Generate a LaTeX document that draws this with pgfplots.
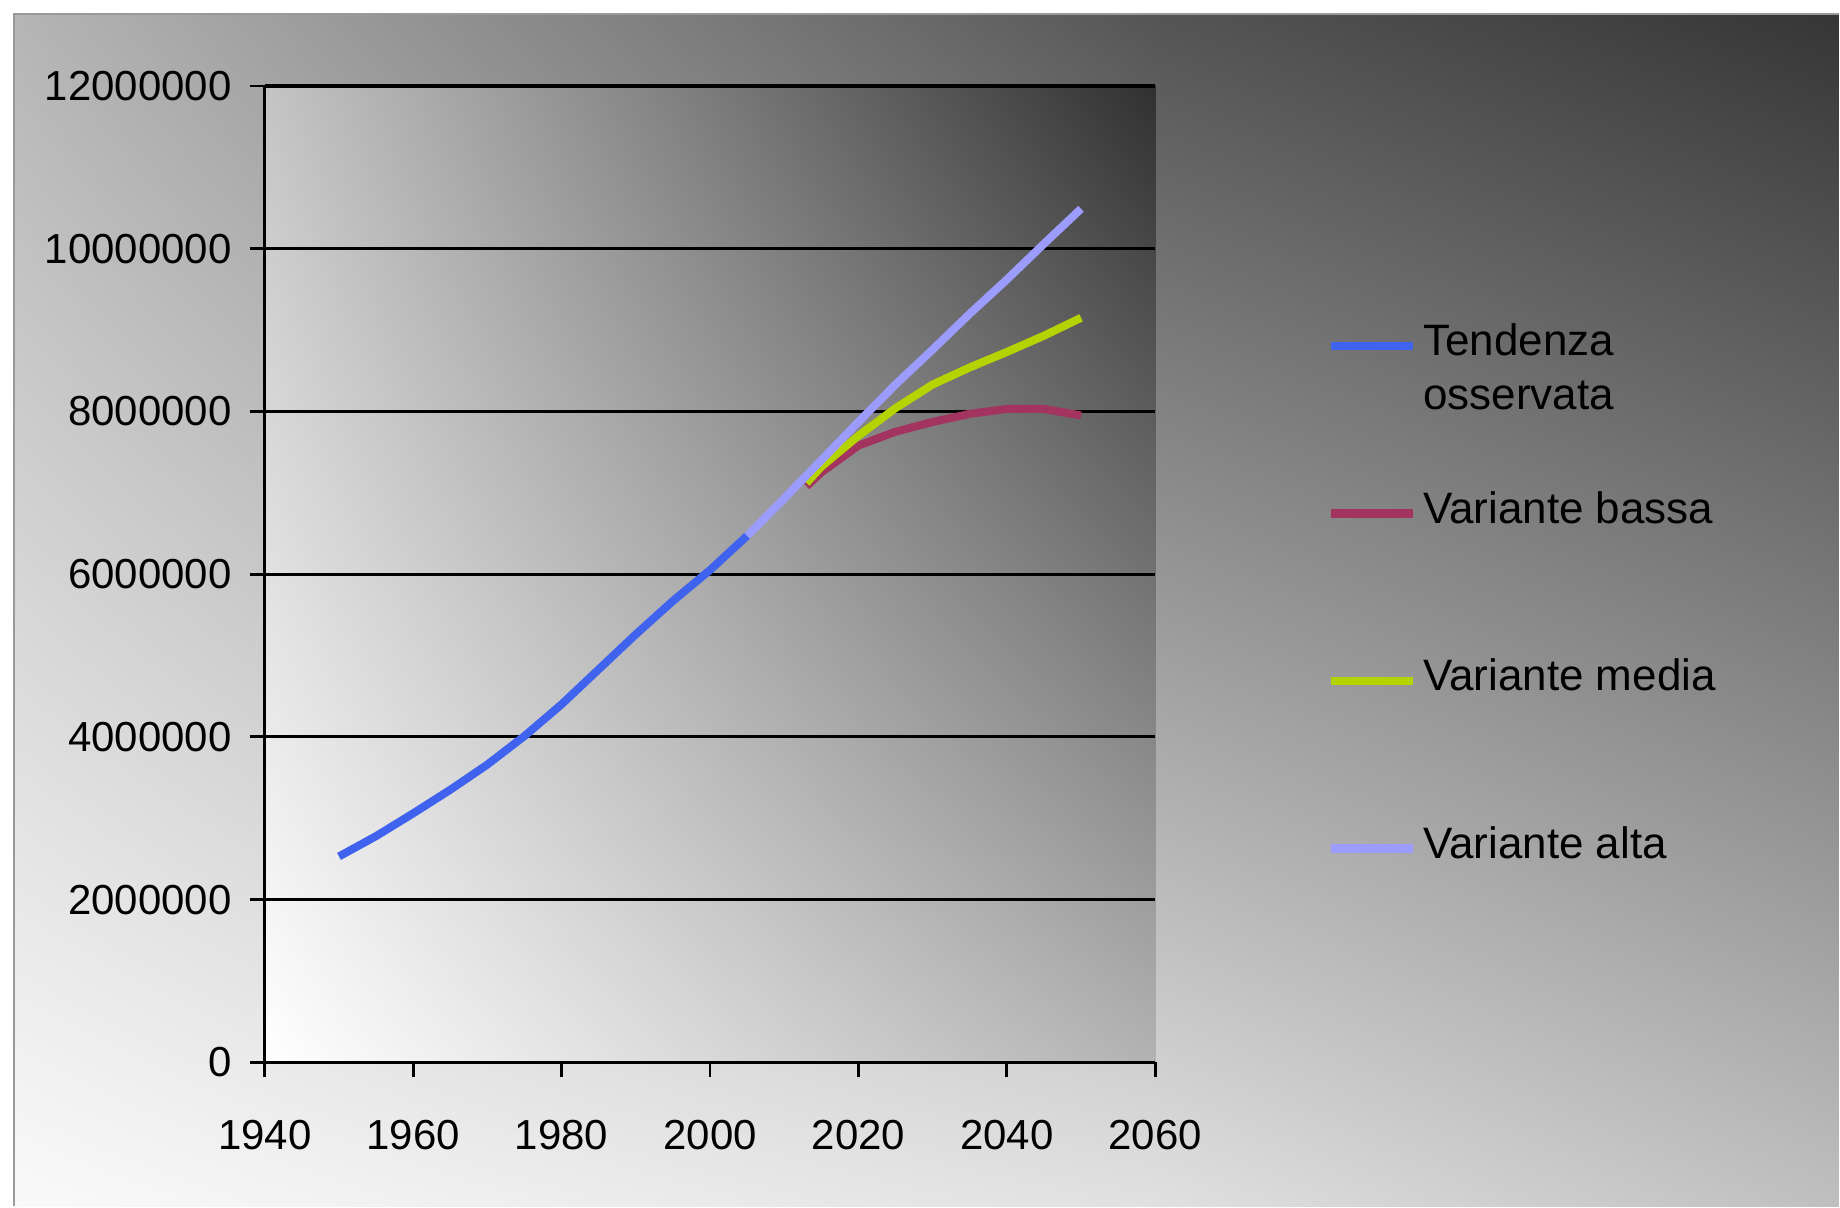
\documentclass[border=0pt]{standalone}
\usepackage{pgfplots}
\pgfplotsset{compat=1.18}
\usetikzlibrary{shadings}
\usepackage{fontspec}
\setmainfont{Liberation Sans}
\definecolor{cBlue}{HTML}{3F63EE}
\definecolor{cLow}{HTML}{A3335F}
\definecolor{cMed}{HTML}{B5D300}
\definecolor{cHigh}{HTML}{9C9CFF}
\definecolor{bgUL}{gray}{0.71}
\definecolor{bgUM}{gray}{0.33}
\definecolor{bgUR}{gray}{0.21}
\definecolor{bgLL}{gray}{0.98}
\definecolor{bgLM}{gray}{0.88}
\definecolor{bgLR}{gray}{0.75}
\definecolor{inUL}{gray}{0.77}
\definecolor{inUR}{gray}{0.19}
\definecolor{inLL}{gray}{1.0}
\definecolor{inLR}{gray}{0.70}
\begin{document}
\begin{tikzpicture}
\fill[white] (0,0) rectangle (460pt,301.75pt);
\shade[upper left=bgUL, upper right=bgUM, lower left=bgLL, lower right=bgLM] (3.5pt,0) rectangle (290pt,298.25pt);
\shade[upper left=bgUM, upper right=bgUR, lower left=bgLM, lower right=bgLR] (289.9pt,0) rectangle (460pt,298.25pt);
\draw[gray!80, line width=0.6pt] (3.5pt,0) -- (3.5pt,298.25pt) -- (460pt,298.25pt);
\begin{axis}[
  at={(66.25pt,36pt)}, anchor=south west,
  width=222.75pt, height=244.25pt, scale only axis,
  xmin=1940, xmax=2060, ymin=0, ymax=12000000,
  scaled y ticks=false, scaled x ticks=false,
  xtick={1940,1960,1980,2000,2020,2040,2060},
  xticklabels={1940,1960,1980,2000,2020,2040,2060},
  ytick={0,2000000,4000000,6000000,8000000,10000000,12000000},
  yticklabels={0,2000000,4000000,6000000,8000000,10000000,12000000},
  axis lines*=left,
  axis line style={black, line width=0.7pt},
  tick style={black, line width=0.7pt},
  tick align=outside, major tick length=3.75pt,
  ymajorgrids, grid style={black, line width=0.8pt},
  tick label style={font=\fontsize{10.5}{12}\selectfont},
  xticklabel style={yshift=-7.2pt},
  yticklabel style={xshift=-1pt},
  axis background/.style={shade, upper left=inUL, upper right=inUR, lower left=inLL, lower right=inLR},
  clip=false,
  legend style={draw=none, fill=none, at={(1.178,0.7734)}, anchor=north west,
    font=\fontsize{11}{13.5}\selectfont, row sep=26.9pt,
    nodes={text height=8pt, text depth=3pt, inner xsep=1.5pt}},
  legend cell align=left,
  legend image code/.code={\draw[#1, line width=2.2pt] (0pt,0pt) -- (20.5pt,0pt);},
]
\addplot[cBlue, line width=2pt, line join=round] coordinates {
(1950,2530000) (1955,2780000) (1960,3060000) (1965,3350000) (1970,3660000)
(1975,4010000) (1980,4400000) (1985,4830000) (1990,5260000) (1995,5670000)
(2000,6050000) (2005,6470000)};
\addlegendentry{\begin{tabular}[t]{@{}l@{}}Tendenza\\osservata\end{tabular}}
\addplot[cLow, line width=2pt, line join=round] coordinates {
(2013,7080000) (2015,7250000) (2020,7580000) (2025,7750000) (2030,7870000)
(2035,7970000) (2040,8030000) (2045,8030000) (2050,7950000)};
\addlegendentry{Variante bassa}
\addplot[cMed, line width=2pt, line join=round] coordinates {
(2013,7120000) (2015,7320000) (2020,7700000) (2025,8040000) (2030,8330000)
(2035,8540000) (2040,8730000) (2045,8930000) (2050,9150000)};
\addlegendentry{Variante media}
\addplot[cHigh, line width=2pt, line join=round] coordinates {
(2005,6470000) (2010,6930000) (2015,7400000) (2020,7870000) (2025,8330000)
(2030,8760000) (2035,9200000) (2040,9620000) (2045,10060000) (2050,10490000)};
\addlegendentry{Variante alta}
\end{axis}
\end{tikzpicture}
\end{document}
